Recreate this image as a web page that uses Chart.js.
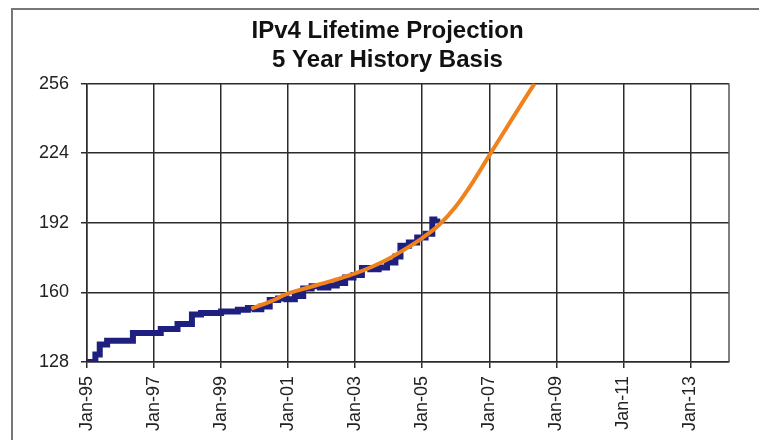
<!DOCTYPE html>
<html>
<head>
<meta charset="utf-8">
<script src="https://cdn.jsdelivr.net/npm/chart.js@4/dist/chart.umd.min.js"></script>
<style>
  html, body { margin: 0; padding: 0; background: #fff; }
  canvas { display: block; }
</style>
</head>
<body>
<canvas id="ipv4Chart" width="759" height="440"></canvas>
<script>
// Allocated /8 blocks (history), step readings
const historyYears = [1995.0, 1995.25, 1995.38, 1995.6, 1996.37, 1997.2, 1997.7, 1998.13, 1998.4, 1999.0, 1999.5, 1999.8,
  2000.0, 2000.2, 2000.45, 2000.7, 2000.95, 2001.2, 2001.45, 2001.7, 2001.95, 2002.2, 2002.45, 2002.7, 2002.95,
  2003.2, 2003.45, 2003.7, 2003.95, 2004.2, 2004.35, 2004.6, 2004.85, 2005.1, 2005.3, 2005.45];
const historyValues = [128, 131.5, 136.0, 137.8, 141.3, 143.2, 145.5, 149.8, 150.5, 151.2, 152.0, 152.8,
  152.3, 153.5, 156.5, 157.2, 156.8, 158.3, 161.8, 162.8, 162.3, 163.2, 164.3, 166.8, 168.0,
  171.2, 170.6, 171.4, 173.8, 176.5, 181.5, 183.0, 185.2, 187.0, 193.5, 194.0];

// Projection fit (orange)
const fitYears = [1999.9, 2000.5, 2001, 2001.5, 2002, 2002.5, 2003, 2003.5, 2004, 2004.5, 2005, 2005.5, 2006, 2006.5, 2007, 2007.5, 2008, 2008.35];
const fitValues = [152.5, 156, 159.5, 161.8, 164, 166.2, 168.7, 171.8, 175.5, 180, 185, 191, 199.5, 210.5, 223, 235.3, 247.6, 256];

const xTickYears = [1995, 1997, 1999, 2001, 2003, 2005, 2007, 2009, 2011, 2013];
const yTicks = [128, 160, 192, 224, 256];

const gridColor = '#2b2b2b';
const fontFamily = '"Liberation Sans", Arial, Helvetica, sans-serif';

const framePlugin = {
  id: 'frame',
  beforeDraw(chart) {
    const ctx = chart.ctx;
    ctx.save();
    ctx.fillStyle = '#fff';
    ctx.fillRect(0, 0, chart.width, chart.height);
    ctx.strokeStyle = '#777';
    ctx.lineWidth = 2;
    ctx.beginPath();
    ctx.moveTo(12, chart.height);
    ctx.lineTo(12, 9);
    ctx.lineTo(chart.width, 9);
    ctx.stroke();
    ctx.restore();
  },
  afterDraw(chart) {
    const a = chart.chartArea;
    const ctx = chart.ctx;
    ctx.save();
    ctx.strokeStyle = '#555';
    ctx.lineWidth = 1.5;
    ctx.beginPath();
    ctx.moveTo(a.right, a.top);
    ctx.lineTo(a.right, a.bottom);
    ctx.stroke();
    ctx.restore();
  }
};

const ctx = document.getElementById('ipv4Chart').getContext('2d');
new Chart(ctx, {
  type: 'line',
  data: {
    datasets: [
      {
        label: 'Projection',
        data: fitYears.map((x, i) => ({ x: x, y: fitValues[i] })),
        borderColor: '#f0821e',
        borderWidth: 4,
        pointRadius: 0,
        cubicInterpolationMode: 'monotone',
        order: 0
      },
      {
        label: 'History',
        data: historyYears.map((x, i) => ({ x: x, y: historyValues[i] })),
        borderColor: '#1f1f80',
        borderWidth: 6,
        pointRadius: 0,
        stepped: true,
        order: 1
      }
    ]
  },
  options: {
    responsive: false,
    animation: false,
    layout: { padding: { left: 30, right: 14, top: 0, bottom: 0 } },
    scales: {
      x: {
        type: 'linear',
        min: 1995,
        max: 2014.15,
        afterBuildTicks: s => { s.ticks = xTickYears.map(v => ({ value: v })); },
        afterFit: s => { s.height = 78; },
        ticks: {
          autoSkip: false,
          minRotation: 90,
          maxRotation: 90,
          padding: 8,
          color: '#222',
          font: { size: 18, family: fontFamily },
          callback: v => 'Jan-' + String(v % 100).padStart(2, '0')
        },
        grid: { color: gridColor, lineWidth: 1.5, tickLength: 6 },
        border: { color: gridColor, width: 1.5 }
      },
      y: {
        min: 128,
        max: 256,
        afterBuildTicks: s => { s.ticks = yTicks.map(v => ({ value: v })); },
        afterFit: s => { s.width = 57; },
        ticks: {
          padding: 12,
          color: '#222',
          font: { size: 18, family: fontFamily }
        },
        grid: { color: gridColor, lineWidth: 1.5, tickLength: 6 },
        border: { color: gridColor, width: 1.5 }
      },
      // empty spacer on the right so the title centres like the original
      spacer: {
        type: 'linear',
        position: 'right',
        min: 128,
        max: 256,
        afterFit: s => { s.width = 16; },
        ticks: { display: false },
        grid: { display: false },
        border: { display: false }
      }
    },
    plugins: {
      legend: { display: false },
      tooltip: { enabled: false },
      title: {
        display: true,
        text: ['IPv4 Lifetime Projection', '5 Year History Basis'],
        color: '#111',
        font: { size: 24, weight: 'bold', family: fontFamily, lineHeight: 1.2 },
        padding: { top: 17, bottom: 9 }
      }
    }
  },
  plugins: [framePlugin]
});
</script>
</body>
</html>
